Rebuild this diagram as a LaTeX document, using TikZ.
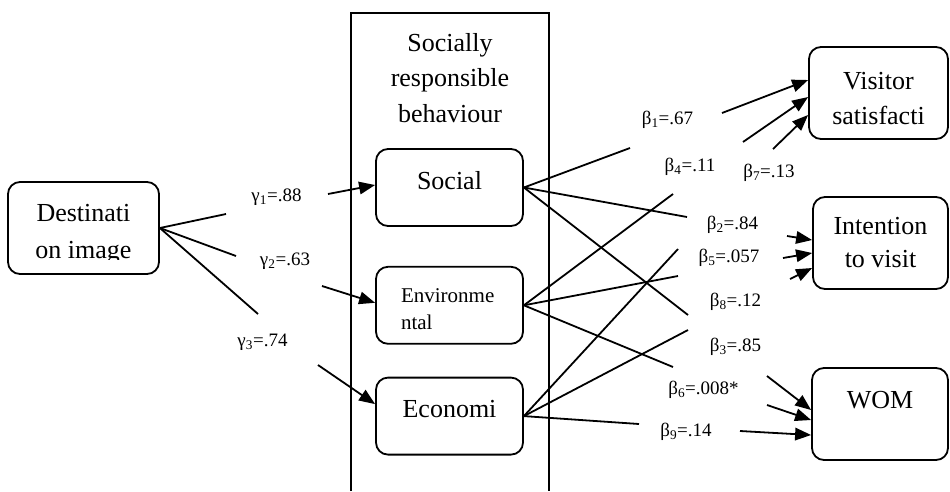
\documentclass[tikz,border=0pt]{standalone}
\usepackage{fontspec}
\setmainfont{Liberation Serif}
\usetikzlibrary{arrows.meta,positioning}
\newcommand{\coef}[3]{#1\textsubscript{#2}=#3}

\begin{document}
\begin{tikzpicture}[x=1pt,y=-1pt,line width=1.8pt,>={Triangle[length=16pt,width=12.5pt]},
  box/.style={draw,rounded corners=12pt,align=center,minimum height=77pt,minimum width=147pt,font=\fontsize{26}{35}\selectfont},
  outbox/.style={box,minimum height=92pt,minimum width=137pt},
  coef/.style={inner sep=1pt,font=\fontsize{19}{22}\selectfont}]
\useasboundingbox (0,0) rectangle (950,491);
\draw (351,491) |- (549,13) -- (549,491);
\node[align=center,font=\fontsize{26}{35.5}\selectfont] (srb) at (450,78) {Socially\\responsible\\behaviour};
\node[box,minimum width=151pt,minimum height=92pt] (dest) at (83.5,228) {};
\begin{scope}
\clip (dest.north west) rectangle ([yshift=15.5pt]dest.south east);
\node[box,draw=none,font=\fontsize{26}{37}\selectfont] (desttext) at (dest) {\rule{0pt}{30pt}Destinati\\on image};
\end{scope}
\node[box,text depth=15pt] (soc) at (449.5,187.5) {Social};
\node[box,font=\fontsize{21}{27}\selectfont,align=left,text width=97pt] (env) [below=39pt of soc] {\rule{0pt}{21pt}Environme\\ntal};
\node[box,text depth=15pt] (eco) [below=32pt of env] {Economi};
\node[outbox,minimum width=139pt] (vis) at (878.5,93) {\rule{0pt}{29pt}Visitor\\satisfacti};
\node[outbox,minimum width=135pt,font=\fontsize{26}{33}\selectfont] (int) at (880.5,243) {Intention\\to visit};
\node[outbox,minimum width=136pt,text depth=28pt] (wom) at (880,414) {WOM};

\node[coef] (g1) at (276.5,197) {\coef{γ}{1}{.88}};
\node[coef] (g2) at (285,261) {\coef{γ}{2}{.63}};
\node[coef] (g3) at (262.5,342) {\coef{γ}{3}{.74}};
\node[coef] (b1) at (667.5,120) {\coef{β}{1}{.67}};
\node[coef] (b4) at (690,167) {\coef{β}{4}{.11}};
\node[coef] (b7) at (769,173) {\coef{β}{7}{.13}};
\node[coef] (b2) at (732.5,225) {\coef{β}{2}{.84}};
\node[coef] (b5) at (729,258) {\coef{β}{5}{.057}};
\node[coef] (b8) at (735.5,302) {\coef{β}{8}{.12}};
\node[coef] (b3) at (735.5,347) {\coef{β}{3}{.85}};
\node[coef] (b6) at (703.5,390) {\coef{β}{6}{.008*}};
\node[coef] (b9) at (686,432) {\coef{β}{9}{.14}};

\coordinate (g1a) at (226,214); \coordinate (g1b) at (328,194);
\coordinate (g2a) at (236,256); \coordinate (g2b) at (322,286);
\coordinate (g3a) at (258,314); \coordinate (g3b) at (318,365);
\coordinate (b1a) at (630,148); \coordinate (b1b) at (722,113);
\coordinate (b2a) at (687,217); \coordinate (b2b) at (787,236);
\coordinate (b3a) at (688,315); \coordinate (b3b) at (767,376);
\coordinate (b4a) at (673,194); \coordinate (b4b) at (743,142);
\coordinate (b5a) at (678,276); \coordinate (b5b) at (783,258);
\coordinate (b6a) at (673,367); \coordinate (b6b) at (767,405);
\coordinate (b7a) at (678,249); \coordinate (b7b) at (773,149);
\coordinate (b8a) at (688,330); \coordinate (b8b) at (790,279);
\coordinate (b9a) at (639,424); \coordinate (b9b) at (740,431);

\path (dest.east) edge (g1a) edge (g2a) edge (g3a)
  (soc.east) edge (b1a) edge (b2a) edge (b3a)
  (env.east) edge (b4a) edge (b5a) edge (b6a)
  (eco.east) edge (b7a) edge (b8a) edge (b9a);
\path[->]
(g1b) edge ([yshift=2.5pt]soc.west)
(g2b) edge ([yshift=2.5pt]env.west)
(g3b) edge ([yshift=12pt]eco.west)
(b1b) edge ([yshift=13pt]vis.west)
(b4b) edge ([yshift=-4pt]vis.west)
(b7b) edge ([yshift=-22pt]vis.west)
(b2b) edge ([yshift=3pt]int.west)
(b5b) edge ([yshift=-10pt]int.west)
(b8b) edge ([yshift=-25pt]int.west)
(b3b) edge ([yshift=4pt]wom.west)
(b6b) edge ([yshift=-6pt]wom.west)
(b9b) edge ([yshift=-21pt]wom.west);
\end{tikzpicture}
\end{document}
